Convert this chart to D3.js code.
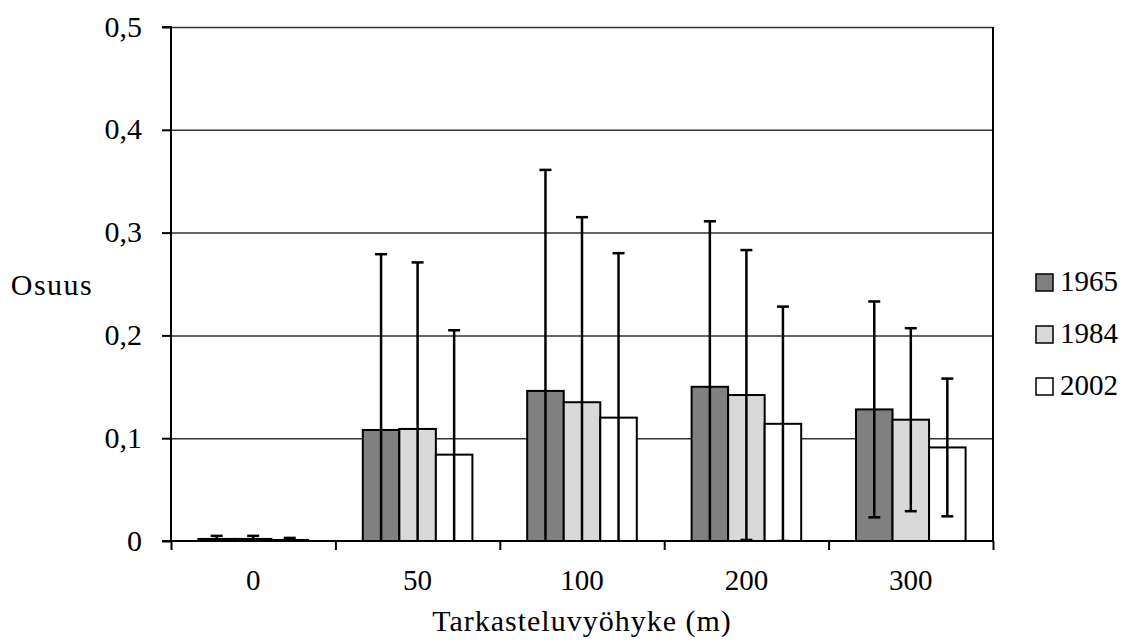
<!DOCTYPE html>
<html>
<head>
<meta charset="utf-8">
<script src="https://cdn.jsdelivr.net/npm/d3@7"></script>
<style>
  body { margin: 0; background: #fff; }
  text { font-family: "Liberation Serif", "Times New Roman", serif; fill: #000; }
</style>
</head>
<body>
<div id="content"></div>
<script>
var categories = ['0', '50', '100', '200', '300']
var series = ['1965', '1984', '2002']
var v1965 = [0.002, 0.108, 0.146, 0.150, 0.128]
var v1984 = [0.002, 0.109, 0.135, 0.142, 0.118]
var v2002 = [0.001, 0.084, 0.120, 0.114, 0.091]
var e1965 = [0.003, 0.171, 0.215, 0.161, 0.105]
var e1984 = [0.003, 0.162, 0.180, 0.141, 0.089]
var e2002 = [0.002, 0.121, 0.160, 0.114, 0.067]
var yTicks = [0, 0.1, 0.2, 0.3, 0.4, 0.5]

var values = { '1965': v1965, '1984': v1984, '2002': v2002 }
var errors = { '1965': e1965, '1984': e1984, '2002': e2002 }
var colors = { '1965': '#808080', '1984': '#d9d9d9', '2002': '#ffffff' }

var width = 1132, height = 644
// plot area edges (window.top is reserved, so own names)
var pLeft = 171, pRight = 993, pTop = 27, pBottom = 541

var svg = d3.select('#content')
    .append('svg')
    .attr('width', width)
    .attr('height', height)

svg.append('defs').append('clipPath')
    .attr('id', 'plot')
    .append('rect')
    .attr('x', pLeft).attr('y', pTop - 2)
    .attr('width', pRight - pLeft).attr('height', pBottom - pTop + 2)

var y = d3.scaleLinear().domain([0, 0.5]).range([pBottom, pTop])
var x0 = d3.scaleBand().domain(categories).range([pLeft, pRight])
var x1 = d3.scaleBand().domain(series).range([x0.step() / 6, x0.step() * 5 / 6])
var xEdges = d3.scaleLinear().domain([0, categories.length]).range([pLeft, pRight])

var fmt = d => d === 0 ? '0' : d3.format('.1f')(d).replace('.', ',')

// gridlines
svg.append('g')
    .attr('transform', `translate(${pLeft},0)`)
    .call(d3.axisLeft(y).tickValues(yTicks.slice(1)).tickSize(-(pRight - pLeft)).tickFormat(''))
    .call(g => g.select('.domain').remove())
    .call(g => g.selectAll('line').attr('stroke', '#333').attr('stroke-width', 1.5))

// bars
var rows = []
categories.forEach((c, i) => series.forEach(s => rows.push({ cat: c, s: s, v: values[s][i], e: errors[s][i] })))

svg.append('g')
    .selectAll('rect')
    .data(rows)
    .join('rect')
    .attr('x', d => x0(d.cat) + x1(d.s))
    .attr('y', d => y(d.v))
    .attr('width', x1.bandwidth())
    .attr('height', d => y(0) - y(d.v))
    .attr('fill', d => colors[d.s])
    .attr('stroke', '#000')
    .attr('stroke-width', 2)

// error bars
var err = svg.append('g')
    .attr('clip-path', 'url(#plot)')
    .selectAll('g')
    .data(rows)
    .join('g')
    .attr('transform', d => `translate(${x0(d.cat) + x1(d.s) + x1.bandwidth() / 2},0)`)
    .attr('stroke', '#000')
    .attr('stroke-width', 2.5)

err.append('line')
    .attr('y1', d => y(d.v + d.e))
    .attr('y2', d => y(d.v - d.e))
err.append('line')
    .attr('x1', -6).attr('x2', 6)
    .attr('y1', d => y(d.v + d.e)).attr('y2', d => y(d.v + d.e))
err.append('line')
    .attr('x1', -6).attr('x2', 6)
    .attr('y1', d => y(d.v - d.e)).attr('y2', d => y(d.v - d.e))

// right border of the plot
svg.append('line')
    .attr('x1', pRight).attr('x2', pRight)
    .attr('y1', pTop).attr('y2', pBottom)
    .attr('stroke', '#000').attr('stroke-width', 2)

// y axis
var yAxis = svg.append('g')
    .attr('transform', `translate(${pLeft},0)`)
    .call(d3.axisLeft(y).tickValues(yTicks).tickSize(9).tickPadding(20).tickFormat(fmt))
yAxis.select('.domain').attr('stroke', '#000').attr('stroke-width', 2).attr('d', `M-9,${pTop}H0V${pBottom}H-9`)
yAxis.selectAll('line').attr('stroke', '#000').attr('stroke-width', 2)
yAxis.selectAll('text').style('font-size', '30px').attr('font-family', null).attr('dy', '0.3em')

// x axis
var xAxis = svg.append('g')
    .attr('transform', `translate(0,${pBottom})`)
    .call(d3.axisBottom(xEdges).ticks(categories.length).tickSize(9).tickFormat(''))
xAxis.select('.domain').attr('stroke', '#000').attr('stroke-width', 2).attr('d', `M${pLeft},0H${pRight}`)
xAxis.selectAll('line').attr('stroke', '#000').attr('stroke-width', 2)

svg.append('g')
    .selectAll('text')
    .data(categories)
    .join('text')
    .attr('x', d => x0(d) + x0.bandwidth() / 2)
    .attr('y', 590)
    .attr('text-anchor', 'middle')
    .style('font-size', '29px')
    .text(d => d)

// axis titles
svg.append('text')
    .attr('x', (pLeft + pRight) / 2)
    .attr('y', 631)
    .attr('text-anchor', 'middle')
    .style('font-size', '30px')
    .style('letter-spacing', '1px')
    .text('Tarkasteluvyöhyke (m)')

svg.append('text')
    .attr('x', 52)
    .attr('y', 295)
    .attr('text-anchor', 'middle')
    .style('font-size', '30px')
    .style('letter-spacing', '1.5px')
    .text('Osuus')

// legend
var legend = svg.append('g')
    .selectAll('g')
    .data(series)
    .join('g')
    .attr('transform', (d, i) => `translate(1036,${274 + i * 52})`)

legend.append('rect')
    .attr('width', 17).attr('height', 17)
    .attr('fill', d => colors[d])
    .attr('stroke', '#000')
    .attr('stroke-width', 1.5)

legend.append('text')
    .attr('x', 24)
    .attr('y', 17)
    .style('font-size', '29px')
    .text(d => d)
</script>
</body>
</html>
